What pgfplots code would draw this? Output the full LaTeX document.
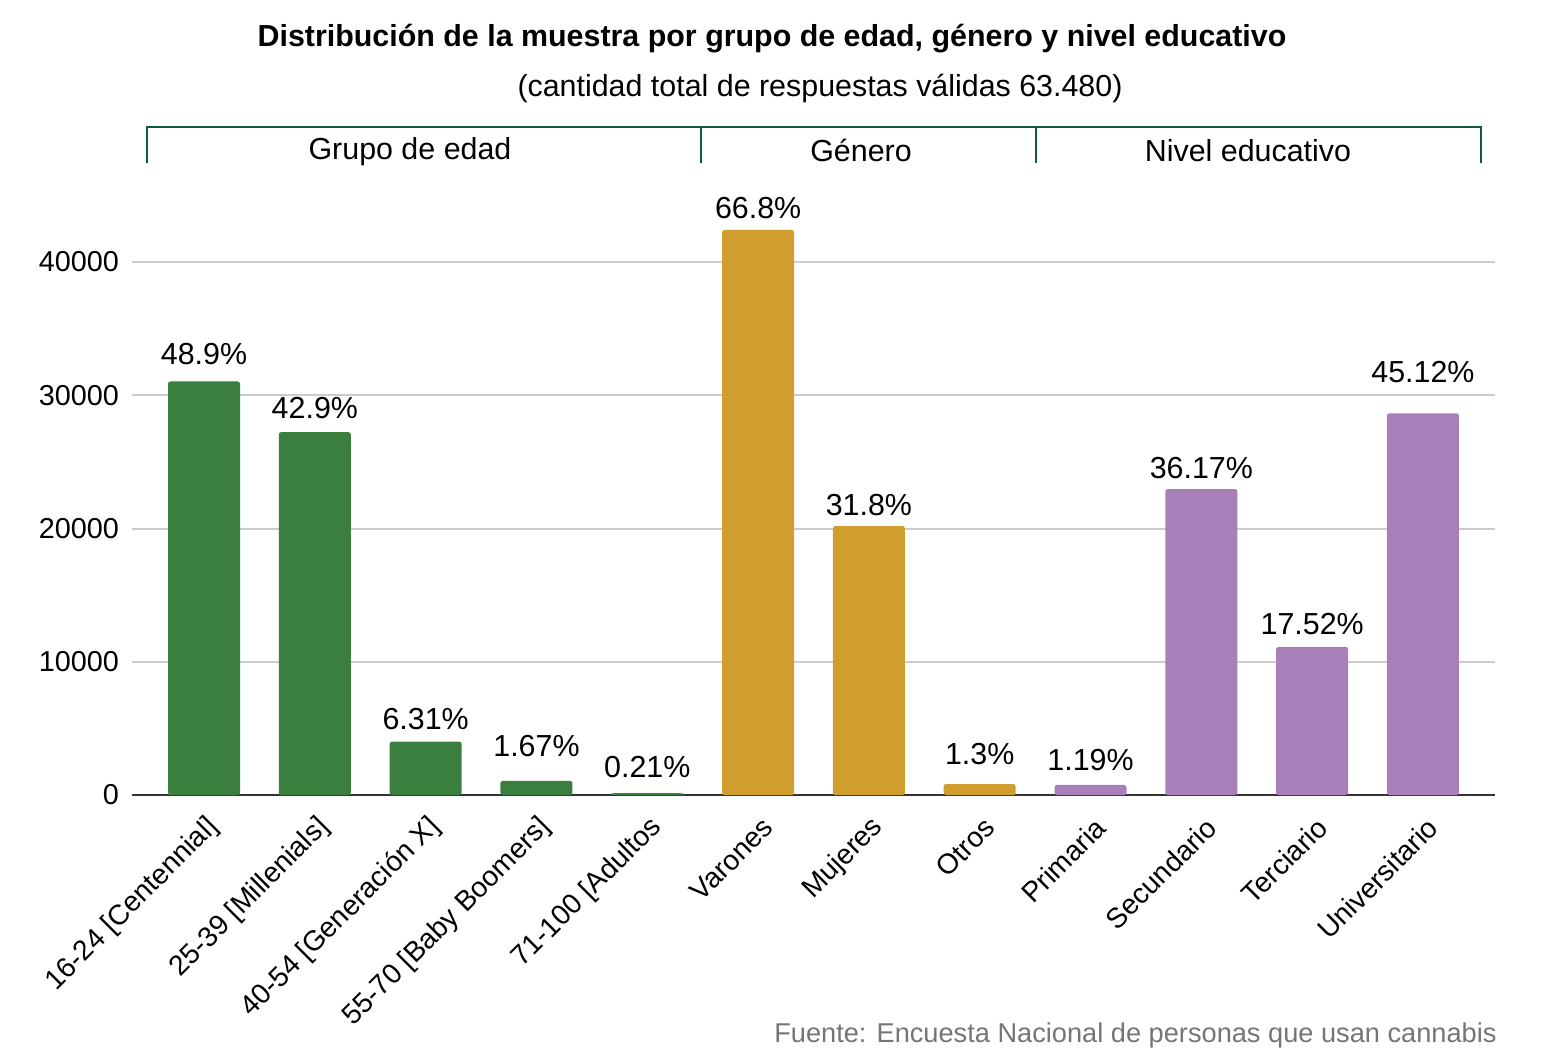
\documentclass[border=0pt]{standalone}
\usepackage{pgfplots}
\usepackage{pgfplotstable}
\pgfplotsset{compat=1.18}
\usepackage{fontspec}
\setmainfont{Liberation Sans}
\definecolor{edad}{HTML}{3B7F3F}
\definecolor{genero}{HTML}{D09E2E}
\definecolor{educ}{HTML}{A77FB9}
\definecolor{llave}{HTML}{0F5B3A}
\definecolor{fuente}{HTML}{757575}
\definecolor{rejilla}{HTML}{CCCCCC}
\definecolor{eje}{HTML}{333333}

% x: posición, n: respuestas, dy: separación de la etiqueta (pt), lab: porcentaje
\pgfplotstableread{
x n dy lab
0 31042 8 48.9\%
1 27233 6.5 42.9\%
2 4006 5.5 6.31\%
3 1060 12 1.67\%
4 133 7.5 0.21\%
}\edadtab
\pgfplotstableread{
x n dy lab
5 42405 5.5 66.8\%
6 20187 5 31.8\%
7 825 9.5 1.3\%
}\generotab
\pgfplotstableread{
x n dy lab
8 755 7 1.19\%
9 22961 5 36.17\%
10 11122 6 17.52\%
11 28642 15 45.12\%
}\eductab

\begin{document}
\begin{tikzpicture}[x=0.5pt,y=0.5pt]
\useasboundingbox (0,0) rectangle (1562,1055);
\begin{axis}[
  at={(66pt,130pt)}, anchor=south west,
  scale only axis, width=681.5pt, height=299.8pt,
  xmin=-0.65, xmax=11.65, ymin=0, ymax=45000,
  ybar, bar width=36pt, bar shift=0pt,
  axis x line*=bottom, axis y line*=left,
  y axis line style={draw=none},
  x axis line style={color=eje, line width=1.2pt, -},
  tick style={draw=none},
  xtick={0,...,11},
  xticklabels={16-24 [Centennial],25-39 [Millenials],40-54 [Generación X],55-70 [Baby Boomers],71-100 [Adultos,Varones,Mujeres,Otros,Primaria,Secundario,Terciario,Universitario},
  % desplazamientos en el marco girado: a lo largo del texto y perpendicular
  x tick label style={rotate=45, anchor=east, font=\fontsize{14.1}{16}\selectfont, inner sep=1pt, xshift=-2.2pt, yshift=-10.4pt},
  ytick={0,10000,20000,30000,40000},
  scaled y ticks=false,
  yticklabel style={font=\fontsize{14.4}{16}\selectfont, xshift=-3pt},
  /pgf/number format/fixed,
  /pgf/number format/set thousands separator={},
  /pgf/number format/assume math mode=true,
  ymajorgrids, grid style={color=rejilla, line width=1pt},
  nodes near coords, point meta=explicit symbolic,
  visualization depends on={\thisrow{dy}\as\dy},
  nodes near coords style={font=\fontsize{15.2}{17}\selectfont, anchor=south, inner sep=0pt, yshift=\dy pt, color=black},
  every axis plot/.append style={draw=none, rounded corners=1.2pt},
]
\addplot[fill=edad] table[x=x, y=n, meta=lab] {\edadtab};
\addplot[fill=genero] table[x=x, y=n, meta=lab] {\generotab};
\addplot[fill=educ] table[x=x, y=n, meta=lab] {\eductab};
\end{axis}

% Títulos
\node[anchor=base, font=\bfseries\fontsize{15.2}{18}\selectfont] at (772,1008) {Distribución de la muestra por grupo de edad, género y nivel educativo};
\node[anchor=base, font=\fontsize{15.2}{18}\selectfont] at (820,958) {(cantidad total de respuestas válidas 63.480)};

% Llaves de grupos
\draw[llave, line width=1pt] (147,892) -- (147,928) -- (1481,928) -- (1481,892);
\draw[llave, line width=1pt] (701,928) -- (701,892);
\draw[llave, line width=1pt] (1036,928) -- (1036,892);
\node[anchor=base, font=\fontsize{15.2}{18}\selectfont] at (410,895) {Grupo de edad};
\node[anchor=base, font=\fontsize{15.2}{18}\selectfont] at (861,893) {Género};
\node[anchor=base, font=\fontsize{15.2}{18}\selectfont] at (1248,893) {Nivel educativo};

% Fuente
\node[anchor=base east, font=\fontsize{13.6}{15}\selectfont, color=fuente, inner sep=0pt] at (1497,13) {Fuente: Encuesta Nacional de personas que usan cannabis};
\end{tikzpicture}
\end{document}
